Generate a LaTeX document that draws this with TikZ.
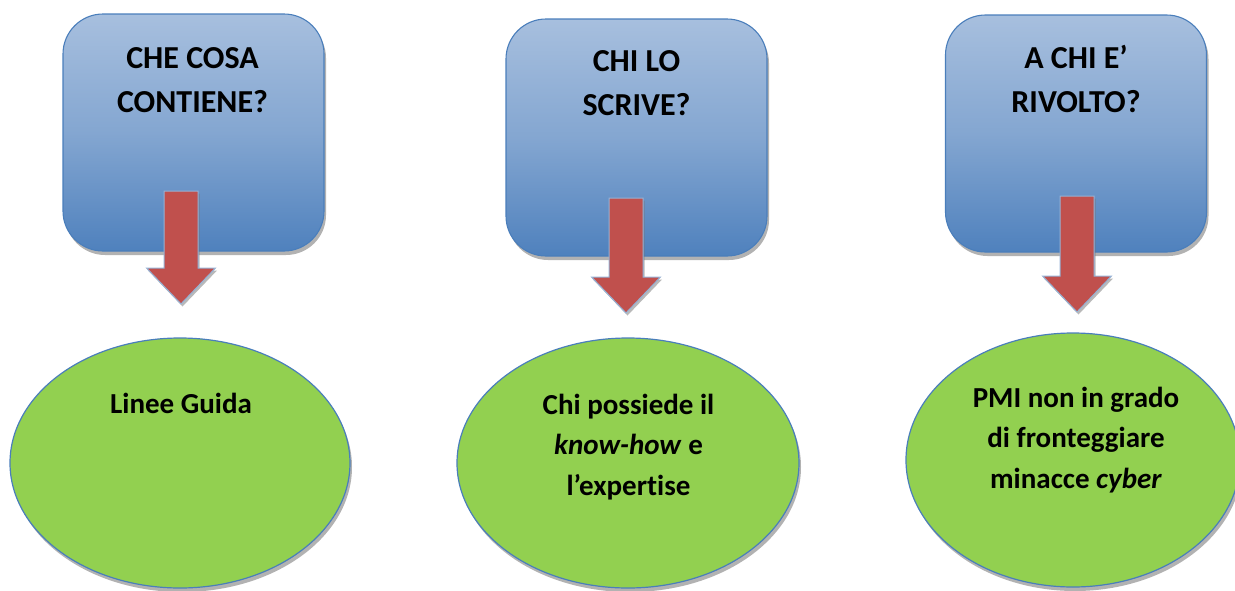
\documentclass[tikz,border=0pt]{standalone}
\usepackage{fontspec}
\setmainfont{Carlito}[Ligatures=NoCommon]
\usetikzlibrary{shadows,calc,shapes.geometric}
\definecolor{boxtop}{HTML}{A7BFDE}
\definecolor{boxbot}{HTML}{4F81BD}
\definecolor{boxedge}{HTML}{4A7EBB}
\definecolor{arrowred}{HTML}{C0504D}
\definecolor{ellfill}{HTML}{92D050}
\tikzset{
  shad/.style={drop shadow={shadow xshift=2pt, shadow yshift=-4pt, fill=black!55, opacity=0.55}},
  qbox/.style={shape=rectangle, rounded corners=40pt, draw=boxedge, line width=1.1pt,
    top color=boxtop, bottom color=boxbot, middle color=boxtop!60!boxbot, shad,
    minimum width=261pt, minimum height=237pt, inner sep=0pt},
  qtext/.style={font=\bfseries\fontsize{32}{44}\selectfont, align=center, anchor=base, inner sep=0pt},
  atext/.style={font=\bfseries\fontsize{29}{40.5}\selectfont, align=center, anchor=base, inner sep=0pt},
  ell/.style={shape=ellipse, draw=boxedge, line width=1.2pt, fill=ellfill, shad, inner sep=0pt},
  redarrow/.style={fill=arrowred, draw=boxtop!80!boxbot, line width=1pt, line join=miter,
    drop shadow={shadow xshift=1.5pt, shadow yshift=-2.5pt, fill=black!55, opacity=0.5}},
}
\begin{document}
\begin{tikzpicture}[x=1pt,y=-1pt]
\useasboundingbox (0,0) rectangle (1235,590);
% boxes
\node[qbox] (b1) at (193.5,132.5) {};
\node[qbox] (b2) at (636.5,137.5) {};
\node[qbox] (b3) at (1076,133.5) {};
% anchor=base of a multi-line node is the baseline of its last line
\node[qtext] (t1) at (192.5,112) {CHE COSA\\CONTIENE?};
\node[qtext] (t2) at (636.5,115.5) {CHI LO\\SCRIVE?};
\node[qtext] (t3) at (1076,112) {A CHI E’\\RIVOLTO?};
% arrows
\coordinate (a1) at (181,191);
\coordinate (p1) at (181,304);
\coordinate (a2) at (626,198);
\coordinate (p2) at (626,313);
\coordinate (a3) at (1077,196);
\coordinate (p3) at (1077,312);
\foreach \a/\p in {a1/p1,a2/p2,a3/p3}{
  \draw[redarrow] ($(\a)+(-17,0)$) -- ($(\a)+(17,0)$) -- ($(\p)+(17,-36)$) -- ($(\p)+(34.5,-36)$)
    -- (\p) -- ($(\p)+(-34.5,-36)$) -- ($(\p)+(-17,-36)$) -- cycle;
}
% ellipses
\node[ell, minimum width=340pt, minimum height=250pt] (e1) at (180,463) {};
\node[ell, minimum width=342pt, minimum height=250pt] (e2) at (628,463) {};
\node[ell, minimum width=334pt, minimum height=254pt] (e3) at (1073,460) {};
\node[atext] (s1) at (181,413) {Linee Guida};
\node[atext] (s2) at (628.5,495) {Chi possiede il\\\textit{know-how} e\\l’expertise};
\node[atext] (s3) at (1076,488) {PMI non in grado\\di fronteggiare\\minacce \textit{cyber}};
\end{tikzpicture}
\end{document}
